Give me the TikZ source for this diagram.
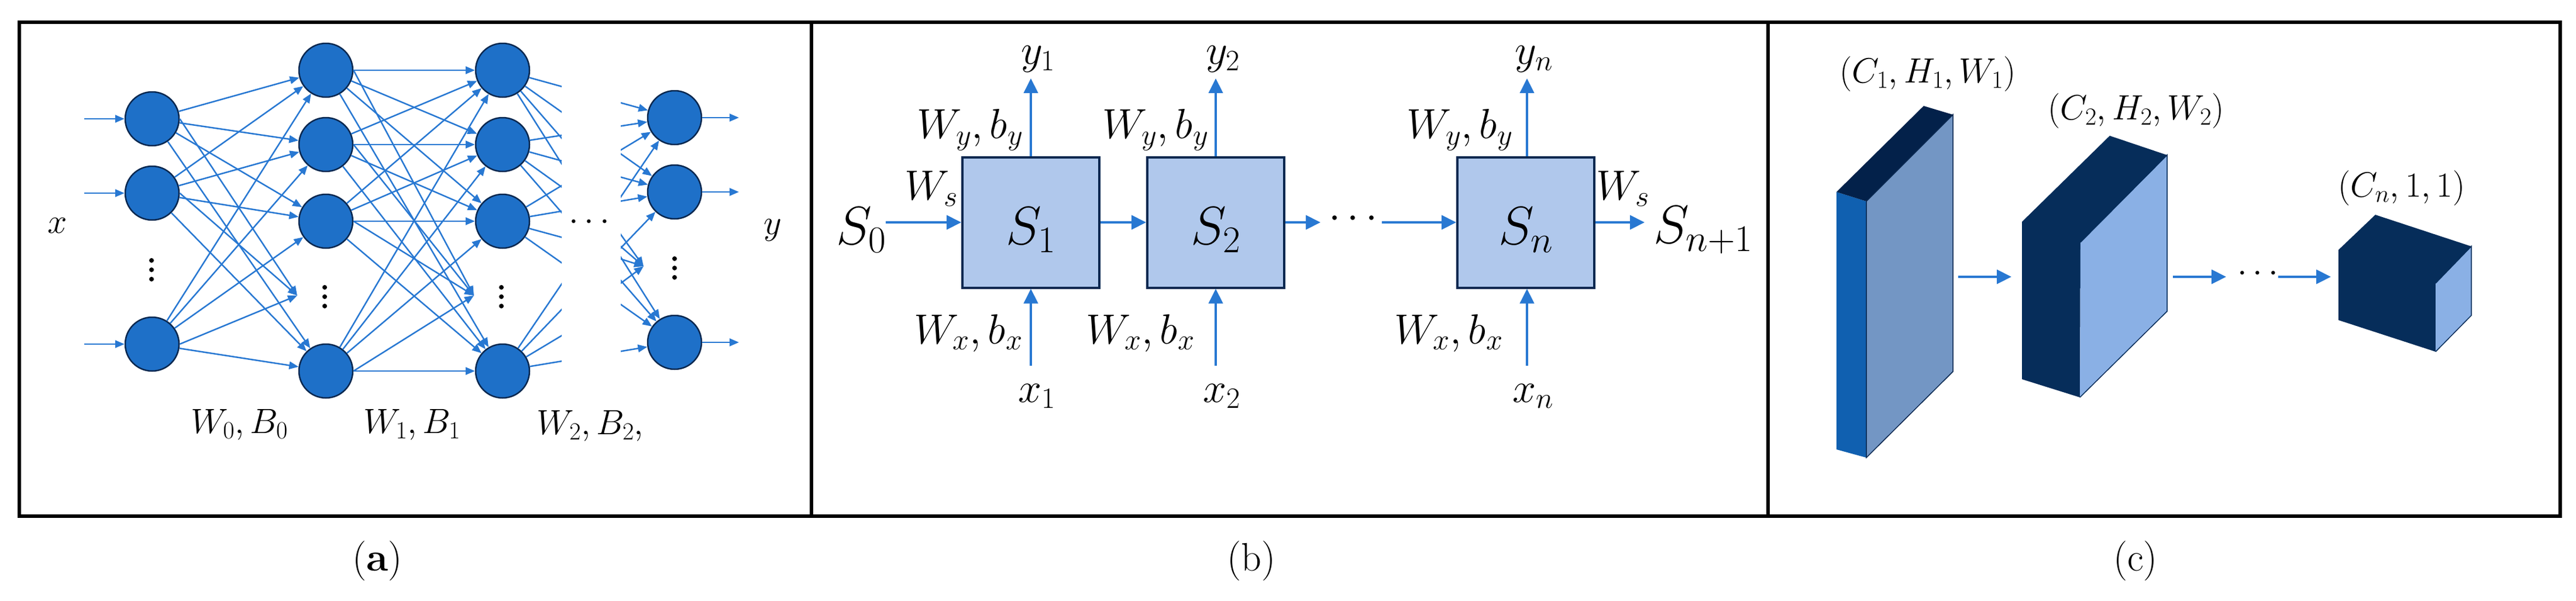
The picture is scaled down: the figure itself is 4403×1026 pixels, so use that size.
\RequirePackage{fix-cm}
\documentclass[tikz,border=0pt]{standalone}
\usetikzlibrary{arrows.meta}
\definecolor{nnblue}{RGB}{30,112,200}
\definecolor{arrblue}{RGB}{40,120,210}
\definecolor{navy}{RGB}{10,40,80}
\definecolor{boxfill}{RGB}{176,200,236}
\definecolor{cnavy}{RGB}{6,45,90}
\definecolor{ctop}{RGB}{3,33,74}
\definecolor{cbright}{RGB}{16,96,176}
\definecolor{cgray}{RGB}{115,150,196}
\definecolor{clight}{RGB}{138,176,229}
\begin{document}
\begin{tikzpicture}[x=1pt,y=-1pt,
  neuron/.style={circle,fill=nnblue,draw=navy,line width=2.5pt,minimum size=92pt,inner sep=0pt},
  nn/.style={draw=arrblue,line width=2.5pt,-{Triangle[length=16pt,width=13pt]}},
  ar/.style={draw=arrblue,line width=4pt,-{Triangle[length=25pt,width=24pt]}},
  txa/.style={font=\fontsize{60}{66}\selectfont,inner sep=0pt},
  txb/.style={font=\fontsize{72}{80}\selectfont,inner sep=0pt},
  txs/.style={font=\fontsize{92}{100}\selectfont,inner sep=0pt},
  captxt/.style={font=\fontsize{68}{76}\selectfont,inner sep=0pt},
  vd/.style={circle,fill=black,inner sep=0pt,minimum size=8pt},
  box/.style={draw=navy,fill=boxfill,line width=4pt,minimum width=234pt,minimum height=223pt,inner sep=0pt}]
\useasboundingbox (0,0) rectangle (4403,1026);
% frames
\draw[line width=6pt] (33,38) rectangle (4376,882);
\draw[line width=6pt] (1387,38) -- (1387,882);
\draw[line width=6pt] (3022,38) -- (3022,882);
% ---------- panel (a)
\foreach \n/\x/\y in {a1/260/203,b1/260/330,d1/260/588,
  a2/557/120,b2/557/247,c2/557/378,d2/557/634,
  a3/859/120,b3/859/247,c3/859/378,d3/859/634,
  a4/1153/201,b4/1153/328,d4/1153/585}
  \node[neuron] (\n) at (\x,\y) {};
\foreach \n/\x/\y in {v1/259/461,v2/555/507,v3/857/507,v4/1153/458}{
  \node[vd] (\n a) at (\x,\y-16) {};
  \node[vd] (\n b) at (\x,\y) {};
  \node[vd] (\n c) at (\x,\y+16) {};}
\coordinate (t2) at (508,505);
\coordinate (t3) at (810,505);
\coordinate (t4) at (1100,455);
\foreach \s in {a1,b1,d1}{
  \foreach \t in {a2,b2,c2,d2} \draw[nn] (\s) -- (\t);
  \draw[nn] (\s.east) -- (t2);}
\foreach \s in {a2,b2,c2,d2}{
  \foreach \t in {a3,b3,c3,d3} \draw[nn] (\s) -- (\t);
  \draw[nn] (\s.east) -- (t3);}
\foreach \n/\y in {a/203,b/330,d/588}{
  \coordinate (i\n) at (144,\y);
  \draw[nn] (i\n) -- (\n1);}
\foreach \n/\y in {a/201,b/328,d/585}{
  \coordinate (o\n) at (1263,\y);
  \draw[nn] (\n4) -- (o\n);}
\foreach \n/\y in {p/201,q/328,r/458,s/585} \coordinate (h\n) at (1153,\y);
\foreach \n/\y in {p/120,q/247,r/378,s/634} \coordinate (g\n) at (859,\y);
\begin{scope}
  \clip (850,60) rectangle (960,700);
  \foreach \s in {a3,b3,c3,d3} \foreach \t in {hp,hq,hr,hs}
    \draw[draw=arrblue,line width=2.5pt] (\s) -- (\t);
\end{scope}
\begin{scope}
  \clip (1061,60) rectangle (1160,700);
  \foreach \s in {gp,gq,gr,gs}{
    \foreach \t in {a4,b4,d4} \draw[nn] (\s) -- (\t);
    \draw[nn] (\s) -- (t4);}
\end{scope}
\node[txa] (lx) at (98,386) {$x$};
\node[txa] (ly) at (1321,393) {$y$};
\node[txa] (ldots) at (1007,380) {$\cdots$};
\node[txa] (w0) at (409,726) {$W_0,B_0$};
\node[txa] (w1) at (704,726) {$W_1,B_1$};
\node[txa] (w2) at (1009,728) {$W_2,B_2,$};
% ---------- panel (b)
\node[box] (s1) at (1762,380) {};
\node[box] (s2) at (2078,380) {};
\node[box] (sn) at (2608,380) {};
\node[txs] at (1762,393) {$S_1$};
\node[txs] at (2078,393) {$S_2$};
\node[txs] at (2608,393) {$S_n$};
\node[txs] (S0) at (1472,393) {$S_0$};
\node[txs] (Sn1) at (2911,393) {$S_{n+1}$};
\coordinate (s0e) at (1514,380);
\coordinate (c2e) at (2257,380);
\coordinate (cde) at (2362,380);
\coordinate (sne) at (2811,380);
\node[txb] (bd) at (2313,374) {$\cdots$};
\draw[ar] (s0e) -- (s1.west);
\draw[ar] (s1.east) -- (s2.west);
\draw[ar] (s2.east) -- (c2e);
\draw[ar] (cde) -- (sn.west);
\draw[ar] (sn.east) -- (sne);
\foreach \b/\x/\k in {s1/1762/1,s2/2078/2,sn/2610/n}{
  \coordinate (yt\k) at (\x,134);
  \coordinate (xb\k) at (\x,625);
  \draw[ar] (\b.north -| yt\k) -- (yt\k);
  \draw[ar] (xb\k) -- (\b.south -| xb\k);
  \node[txb] (ly\k) at (\x+12,101) {$y_\k$};
  \node[txb] (lx\k) at (\x+10,677) {$x_\k$};}
\node[txb] at (1658,222) {$W_y,b_y$};
\node[txb] at (1975,222) {$W_y,b_y$};
\node[txb] at (2495,222) {$W_y,b_y$};
\node[txb] at (1655,569) {$W_x,b_x$};
\node[txb] at (1949,569) {$W_x,b_x$};
\node[txb] at (2476,569) {$W_x,b_x$};
\node[txb] at (1592,322) {$W_s$};
\node[txb] at (2774,322) {$W_s$};
% ---------- panel (c)
\fill[cbright] (3139,328) -- (3190,344) -- (3190,782) -- (3139,768) -- cycle;
\fill[cgray] (3190,344) -- (3338,196) -- (3338,635) -- (3190,782) -- cycle;
\fill[ctop] (3139,328) -- (3288,181) -- (3338,196) -- (3190,344) -- cycle;
\draw[navy,line width=1.5pt] (3190,344) -- (3338,196) -- (3338,635) -- (3190,782) -- cycle;
\fill[cnavy] (3456,379) -- (3606,232) -- (3704,265) -- (3556,414) -- (3555,679) -- (3456,648) -- cycle;
\fill[clight] (3556,414) -- (3704,265) -- (3704,532) -- (3555,679) -- cycle;
\draw[cnavy,line width=1.5pt] (3556,414) -- (3704,265) -- (3704,532) -- (3555,679);
\fill[cnavy] (3997,427) -- (4060,367) -- (4224,421) -- (4163,484) -- (4163,601) -- (3997,547) -- cycle;
\fill[clight] (4163,484) -- (4224,421) -- (4224,539) -- (4163,601) -- cycle;
\draw[cnavy,line width=1.5pt] (4163,484) -- (4224,421) -- (4224,539) -- (4163,601);
\coordinate (k1) at (3347,473); \coordinate (k2) at (3438,473);
\coordinate (k3) at (3714,473); \coordinate (k4) at (3805,473);
\coordinate (k5) at (3894,473); \coordinate (k6) at (3984,473);
\draw[ar] (k1) -- (k2);
\draw[ar] (k3) -- (k4);
\draw[ar] (k5) -- (k6);
\node[txa] (cd) at (3859,468) {$\cdots$};
\node[txa] (l1) at (3295,126) {$(C_1,H_1,W_1)$};
\node[txa] (l2) at (3651,189) {$(C_2,H_2,W_2)$};
\node[txa] (l3) at (4105,321) {$(C_n,1,1)$};
% captions
\node[captxt] at (645,959) {(\textbf{a})};
\node[captxt] at (2139,959) {(b)};
\node[captxt] at (3650,959) {(c)};
\end{tikzpicture}
\end{document}
